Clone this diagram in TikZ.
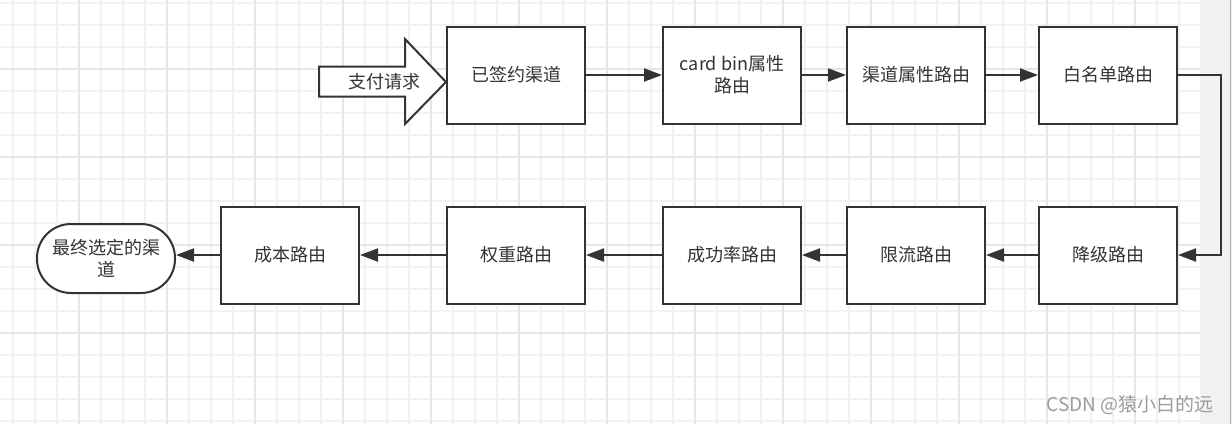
\documentclass[tikz,border=0pt]{standalone}
\usepackage{fontspec}
\setmainfont{Noto Sans CJK SC}
\usetikzlibrary{arrows.meta}
\definecolor{ink}{HTML}{333333}
\definecolor{gridminor}{HTML}{F2F2F2}
\definecolor{gridmajor}{HTML}{E6E6E6}
\definecolor{strip}{HTML}{F1F1F1}
\definecolor{wm}{HTML}{9C9C9C}
\tikzset{
  stepbox/.style={draw=ink, line width=2pt, fill=white, minimum width=138pt, minimum height=97pt,
    inner sep=0pt, align=center, text=ink, font=\fontsize{18}{22}\selectfont},
  endbox/.style={stepbox, minimum height=69pt, rounded corners=34pt},
  flow/.style={draw=ink, line width=2pt, -{Triangle[length=18pt,width=13pt]}},
}
\begin{document}
\begin{tikzpicture}[x=1pt,y=-1pt]
\fill[white] (0,0) rectangle (1232,424);
\useasboundingbox (0,0) rectangle (1232,424);
% grid
\foreach \i in {0,...,53} {
  \pgfmathsetmacro{\xx}{13+22*\i}
  \draw[gridminor, line width=1.5pt] (\xx,0) -- (\xx,424);
}
\foreach \j in {0,...,19} {
  \pgfmathsetmacro{\yy}{3+22*\j}
  \draw[gridminor, line width=1.5pt] (0,\yy) -- (1200,\yy);
}
\foreach \i in {0,...,13} {
  \pgfmathsetmacro{\xx}{-9+88*\i}
  \draw[gridmajor, line width=2pt] (\xx,0) -- (\xx,424);
}
\foreach \j in {0,...,4} {
  \pgfmathsetmacro{\yy}{-19+88*\j}
  \draw[gridmajor, line width=2pt] (0,\yy) -- (1200,\yy);
}
\fill[strip] (1200,0) rectangle (1232,424);
\draw[gray!60, line width=1pt] (1230.5,0) -- (1230.5,424);

% big input arrow
\draw[ink, line width=2pt, fill=white, line join=miter]
  (319,66.5) -- (405,66.5) -- (405,39) -- (446,82) -- (405,124) -- (405,96.5) -- (319,96.5) -- cycle;
\node[text=ink, font=\fontsize{18}{22}\selectfont] (req) at (384,82) {支付请求};

% row 1
\node[stepbox] (s1) at (516,75) {已签约渠道};
\node[stepbox] (s2) at (732,75) {card bin属性\\路由};
\node[stepbox] (s3) at (916,75) {渠道属性路由};
\node[stepbox] (s4) at (1108,75) {白名单路由};
% row 2
\node[stepbox] (s5) at (1108,255) {降级路由};
\node[stepbox] (s6) at (916,255) {限流路由};
\node[stepbox] (s7) at (732,255) {成功率路由};
\node[stepbox] (s8) at (516,255) {权重路由};
\node[stepbox] (s9) at (290,255) {成本路由};
\node[endbox] (fin) at (106,258.5) {最终选定的渠\\道};

\draw[flow] (s1) -- (s2);
\draw[flow] (s2) -- (s3);
\draw[flow] (s3) -- (s4);
\draw[flow] (s4.east) -- ++(43,0) |- (s5.east);
\draw[flow] (s5) -- (s6);
\draw[flow] (s6) -- (s7);
\draw[flow] (s7) -- (s8);
\draw[flow] (s8) -- (s9);
\draw[flow] (s9.west) -- (fin.east |- s9.west);

\node[text=wm, anchor=east, font=\fontsize{19}{22}\selectfont] (wmk) at (1217,405) {CSDN @猿小白的远};
\end{tikzpicture}
\end{document}
